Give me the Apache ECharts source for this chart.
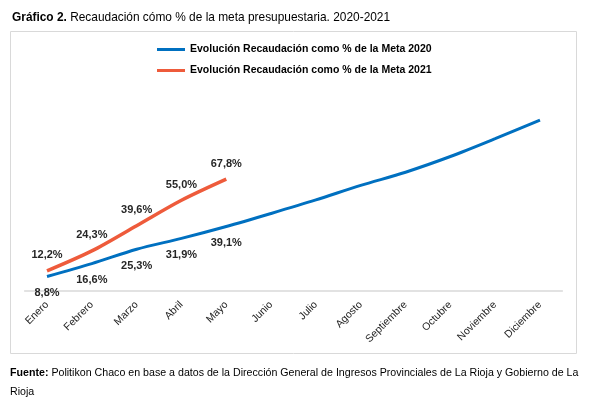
<!DOCTYPE html>
<html>
<head>
<meta charset="utf-8">
<script src="https://cdn.jsdelivr.net/npm/echarts@6/dist/echarts.min.js"></script>
<style>
  html, body { margin: 0; padding: 0; background: #fff; }
  #root { width: 597px; height: 420px; }
</style>
</head>
<body>
<div id="root"></div>
<script>
var months = ['Enero', 'Febrero', 'Marzo', 'Abril', 'Mayo', 'Junio', 'Julio',
  'Agosto', 'Septiembre', 'Octubre', 'Noviembre', 'Diciembre'];
var meta2020 = [8.8, 16.6, 25.3, 31.9, 39.1, 47.0, 55.2, 64.0, 72.0, 81.5, 92.3, 103.6];
var meta2021 = [12.2, 24.3, 39.6, 55.0, 67.8];
var name2020 = 'Evolución Recaudación como % de la Meta 2020';
var name2021 = 'Evolución Recaudación como % de la Meta 2021';
var labeled2020 = 5;

var font = "'Liberation Sans', Arial, sans-serif";

function pct( v )
{
  return v.toFixed(1).replace('.', ',') + '%';
}

var chart = echarts.init(document.getElementById('root'));

var option = {
  animation: false,
  textStyle: { fontFamily: font },
  title: {
    left: 12,
    top: 12,
    padding: 0,
    text: '{b|Gráfico 2.} Recaudación cómo % de la meta presupuestaria. 2020-2021',
    textStyle: {
      fontFamily: font, fontSize: 11.9, fontWeight: 'normal', color: '#000',
      rich: { b: { fontFamily: font, fontSize: 11.9, fontWeight: 'bold', color: '#000' } }
    }
  },
  legend: {
    orient: 'vertical',
    left: 157,
    top: 44,
    padding: 0,
    itemWidth: 28,
    itemHeight: 3,
    itemGap: 10,
    icon: 'rect',
    textStyle: { fontFamily: font, fontSize: 10.5, fontWeight: 'bold', color: '#000' },
    data: [name2020, name2021]
  },
  grid: { left: 24.6, right: 34.6, top: 93, bottom: 129 },
  xAxis: {
    type: 'category',
    data: months,
    boundaryGap: true,
    axisLine: { lineStyle: { color: '#d9d9d9', width: 1.5 } },
    axisTick: { show: false },
    axisLabel: { rotate: 45, margin: 12, interval: 0, fontFamily: font, fontSize: 10.5, color: '#262626' }
  },
  yAxis: {
    type: 'value',
    min: 0,
    max: 120,
    show: false,
    splitLine: { show: false }
  },
  series: [
    {
      name: name2020,
      type: 'line',
      data: meta2020,
      smooth: 0.3,
      symbol: 'circle',
      symbolSize: 0,
      showSymbol: true,
      itemStyle: { color: '#0070C0' },
      lineStyle: { color: '#0070C0', width: 3 },
      label: {
        show: true,
        position: 'bottom',
        distance: 11,
        fontFamily: font, fontSize: 11, fontWeight: 'bold', color: '#262626',
        formatter: function( p ) { return p.dataIndex < labeled2020 ? pct(p.value) : ''; }
      }
    },
    {
      name: name2021,
      type: 'line',
      data: meta2021,
      smooth: 0.3,
      symbol: 'circle',
      symbolSize: 0,
      showSymbol: true,
      itemStyle: { color: '#EE5B3B' },
      lineStyle: { color: '#EE5B3B', width: 3.5 },
      label: {
        show: true,
        position: 'top',
        distance: 10,
        fontFamily: font, fontSize: 11, fontWeight: 'bold', color: '#262626',
        formatter: function( p ) { return pct(p.value); }
      }
    }
  ],
  graphic: [
    {
      type: 'rect',
      z: -1,
      shape: { x: 10.5, y: 31.5, width: 566, height: 322 },
      style: { fill: 'none', stroke: '#d9d9d9', lineWidth: 1 }
    },
    {
      type: 'text',
      left: 10,
      top: 364,
      style: {
        text: '{b|Fuente:} Politikon Chaco en base a datos de la Dirección General de Ingresos Provinciales de La Rioja y Gobierno de La\nRioja',
        fontFamily: font, fontSize: 10.65, fill: '#000', lineHeight: 19,
        rich: { b: { fontFamily: font, fontSize: 10.65, fontWeight: 'bold', fill: '#000', lineHeight: 19 } }
      }
    }
  ]
};

chart.setOption(option);
</script>
</body>
</html>
